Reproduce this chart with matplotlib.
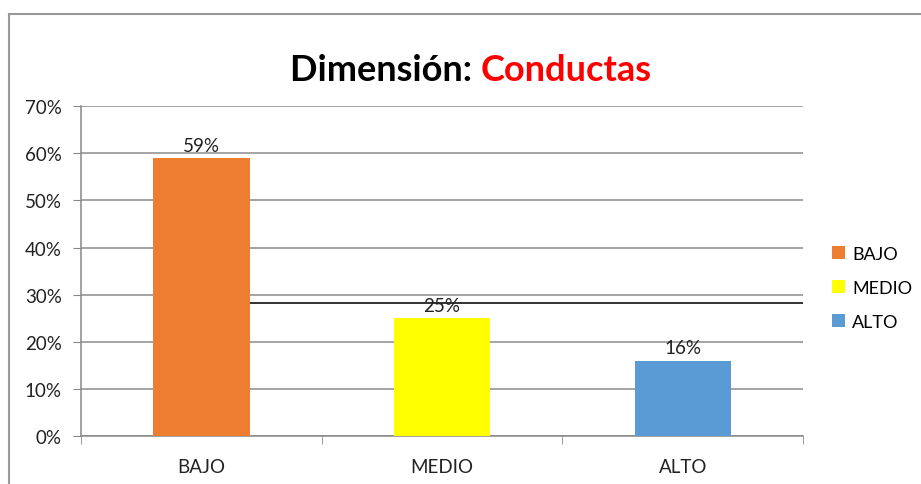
import matplotlib
matplotlib.use("Agg")
import matplotlib.pyplot as plt
from matplotlib.lines import Line2D
from matplotlib.patches import Patch
import numpy as np

categories = ["BAJO", "MEDIO", "ALTO"]
values = [0.59, 0.25, 0.16]
labels = ["59%", "25%", "16%"]
colors = ["#ED7D31", "#FFFF00", "#5B9BD5"]
yticks = [0, 0.1, 0.2, 0.3, 0.4, 0.5, 0.6, 0.7]
ytick_labels = ["0%", "10%", "20%", "30%", "40%", "50%", "60%", "70%"]
dark_line = 0.282   # stray dark rule in the original

plt.rcParams['font.family'] = ['Lato', 'DejaVu Sans']

fig = plt.figure(figsize=(9.21, 4.85), dpi=100)
ax = fig.add_axes([0.088, 0.099, 0.784, 0.680])

x = np.arange(len(categories))
ax.bar(x, values, width=0.4, color=colors, zorder=3)
for xi, v, lab in zip(x, values, labels):
    ax.annotate(lab, (xi, v), xytext=(0, 3), textcoords="offset points",
                ha="center", va="bottom", fontsize=13.5, color="#222222", zorder=4)

ax.set_xlim(-0.5, 2.5)
ax.set_ylim(0, 0.7)
ax.set_yticks(yticks)
ax.set_yticklabels(ytick_labels)
ax.set_xticks(x)
ax.set_xticklabels(categories)
ax.set_xticks([-0.5, 0.5, 1.5, 2.5], minor=True)
ax.tick_params(axis="x", which="major", length=0, pad=16, labelsize=13.5, labelcolor="#222222")
ax.tick_params(axis="x", which="minor", length=6, color="#888888", direction="out")
ax.tick_params(axis="y", length=6, color="#888888", pad=8, labelsize=13.5, labelcolor="#222222")

ax.yaxis.grid(True, color="#8c8c8c", linewidth=1.1, zorder=0)
# dark horizontal rule seen in the scan, from the first bar to the right edge
ax.plot([0.2, 2.5], [dark_line, dark_line], color="#222222", linewidth=1.3, zorder=2)

for s in ["top", "right"]:
    ax.spines[s].set_visible(False)
for s in ["left", "bottom"]:
    ax.spines[s].set_color("#888888")
    ax.spines[s].set_linewidth(1.1)

handles = [Patch(facecolor=c, label=cat) for c, cat in zip(colors, categories)]
fig.legend(handles=handles, loc="center left", bbox_to_anchor=(0.89, 0.405),
           frameon=False, fontsize=13, handlelength=0.7, handleheight=0.7,
           handletextpad=0.4, labelspacing=1.0, borderpad=0.2)

# title in two colours
fig.text(0.522, 0.855, "Dimensión: ", fontsize=26, fontweight="bold",
         color="black", ha="right", va="center")
fig.text(0.522, 0.855, "Conductas", fontsize=26, fontweight="bold",
         color="#FF0000", ha="left", va="center")

# outer frame of the chart (cut off at right and bottom)
fig.add_artist(Line2D([9 / 921, 9 / 921], [0, 1 - 15 / 485], color="#999999",
                      linewidth=1.5, transform=fig.transFigure))
fig.add_artist(Line2D([9 / 921, 1], [1 - 15 / 485, 1 - 15 / 485], color="#999999",
                      linewidth=1.5, transform=fig.transFigure))

fig.savefig("out.png", dpi=100)
